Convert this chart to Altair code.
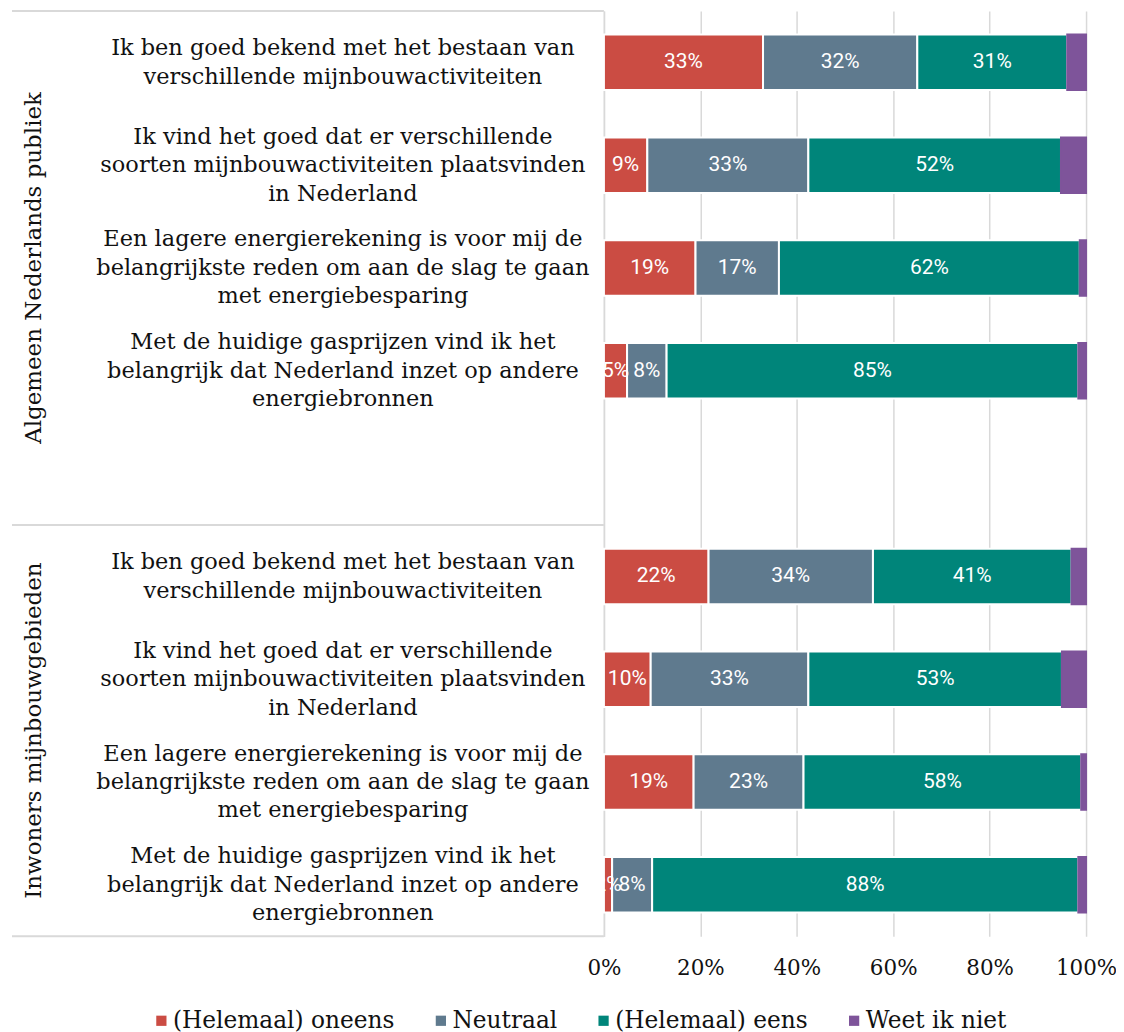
import altair as alt
import pandas as pd

groups = ["Algemeen Nederlands publiek", "Inwoners mijnbouwgebieden"]
group_slots = [5, 4]  # first group has one empty row at the end
questions = [
    "Ik ben goed bekend met het bestaan van|verschillende mijnbouwactiviteiten",
    "Ik vind het goed dat er verschillende|soorten mijnbouwactiviteiten plaatsvinden|in Nederland",
    "Een lagere energierekening is voor mij de|belangrijkste reden om aan de slag te gaan|met energiebesparing",
    "Met de huidige gasprijzen vind ik het|belangrijk dat Nederland inzet op andere|energiebronnen",
]
series = ["(Helemaal) oneens", "Neutraal", "(Helemaal) eens", "Weet ik niet"]
colors = ["#CB4C43", "#5F7A8E", "#00857A", "#7E549A"]

# Algemeen Nederlands publiek
oneens_1 = [33.0, 9.0, 19.0, 4.8]
neutraal_1 = [32.0, 33.4, 17.3, 8.2]
eens_1 = [31.1, 52.4, 62.4, 85.4]
weet_1 = [3.9, 5.2, 1.3, 1.6]
# Inwoners mijnbouwgebieden
oneens_2 = [21.7, 9.7, 18.6, 1.7]
neutraal_2 = [34.1, 32.7, 22.8, 8.3]
eens_2 = [41.2, 52.6, 57.6, 88.4]
weet_2 = [3.0, 5.0, 1.0, 1.6]

x_ticks = [0, 20, 40, 60, 80, 100]

SERIF = "DejaVu Serif"
GRID = "#d9d9d9"
TXT = "#111111"
LH = 28.5

# slot names (unique per group; zero-width space marks group 2)
slots_g1 = questions + [" "]
slots_g2 = [q + "\u200b" for q in questions]
slot_domain = slots_g1 + slots_g2

rows = []
for slots, vals in [
    (slots_g1, [oneens_1, neutraal_1, eens_1, weet_1]),
    (slots_g2, [oneens_2, neutraal_2, eens_2, weet_2]),
]:
    for qi in range(len(questions)):
        for si, s in enumerate(series):
            rows.append({"slot": slots[qi], "series": s, "order": si, "value": vals[si][qi]})
df = pd.DataFrame(rows)

# group bands in slot units
bounds = [0]
for n in group_slots:
    bounds.append(bounds[-1] + n)
sep_df = pd.DataFrame({"b": bounds})
grp_df = pd.DataFrame({
    "group": groups,
    "mid": [(bounds[i] + bounds[i + 1]) / 2 for i in range(len(groups))],
})
total_slots = bounds[-1]

base = alt.Chart(df).transform_stack(
    stack="value", groupby=["slot"], as_=["x0", "x1"], sort=[alt.SortField("order")]
).transform_calculate(
    mid="(datum.x0 + datum.x1) / 2",
    lbl="format(datum.value, '.0f') + '%'",
)

x_scale = alt.Scale(domain=[0, 100], nice=False, zero=True)
y_scale = alt.Scale(domain=slot_domain, paddingInner=0.46, paddingOuter=0.23)

label_offset = {
    "condition": {"test": "length(split(datum.value, '|')) == 3", "value": -LH},
    "value": -LH / 2,
}

bars = base.mark_bar(strokeWidth=2).encode(
    x=alt.X(
        "x0:Q",
        scale=x_scale,
        axis=alt.Axis(
            values=x_ticks, labelExpr="datum.value + '%'", title=None,
            grid=True, gridColor=GRID, gridWidth=1.5, domain=False, ticks=False,
            labelFont=SERIF, labelFontSize=21.5, labelColor=TXT, labelPadding=21,
            labelFlush=False, orient="bottom",
        ),
    ),
    x2="x1:Q",
    y=alt.Y(
        "slot:N",
        scale=y_scale,
        sort=slot_domain,
        axis=alt.Axis(
            title=None, labelExpr="split(datum.label, '|')", labelAlign="center",
            labelBaseline="middle", labelPadding=262, labelLimit=1000,
            labelOffset=label_offset,
            labelFont=SERIF, labelFontSize=22.5, labelLineHeight=LH, labelColor=TXT,
            domain=True, domainColor=GRID, domainWidth=1.5, ticks=False, grid=False,
        ),
    ),
    color=alt.Color(
        "series:N",
        scale=alt.Scale(domain=series, range=colors),
        sort=series,
        legend=alt.Legend(
            title=None, orient="none", legendX=-455, legendY=1000, direction="horizontal",
            columns=4, symbolType="square", symbolSize=105, symbolStrokeWidth=0,
            labelFont=SERIF, labelFontSize=23.3, labelColor=TXT, labelLimit=600,
            columnPadding=34, labelOffset=0,
        ),
    ),
    stroke=alt.condition("datum.series == 'Weet ik niet'", alt.value("#7E549A"), alt.value("white")),
    order=alt.Order("order:Q"),
)

labels = base.transform_filter("datum.series != 'Weet ik niet'").mark_text(
    color="white", font="Roboto", fontSize=21, clip=True, baseline="middle", align="center"
).encode(
    x=alt.X("mid:Q", scale=x_scale),
    y=alt.Y("slot:N", scale=y_scale, sort=slot_domain, axis=None),
    text="lbl:N",
)

y2_scale = alt.Scale(domain=[0, total_slots], reverse=True, nice=False, zero=False)

seps = alt.Chart(sep_df).mark_rule(color=GRID, strokeWidth=2).encode(
    x=alt.value(-593),
    x2=alt.value(0),
    y=alt.Y("b:Q", scale=y2_scale, axis=None),
)

grp_text = alt.Chart(grp_df).mark_text(
    angle=270, font=SERIF, fontSize=23, color=TXT, align="center", baseline="middle"
).encode(
    x=alt.value(-571),
    y=alt.Y("mid:Q", scale=y2_scale, axis=None),
    text="group:N",
)

chart = alt.layer(bars, labels, seps, grp_text).resolve_scale(
    y="independent"
).properties(
    width=483, height=927,
    autosize=alt.AutoSizeParams(type="none"),
    padding={"left": 597, "top": 2, "right": 30, "bottom": 96},
).configure_view(stroke=None)

chart.save("out.html", embed_options={"renderer": "svg", "actions": False})
